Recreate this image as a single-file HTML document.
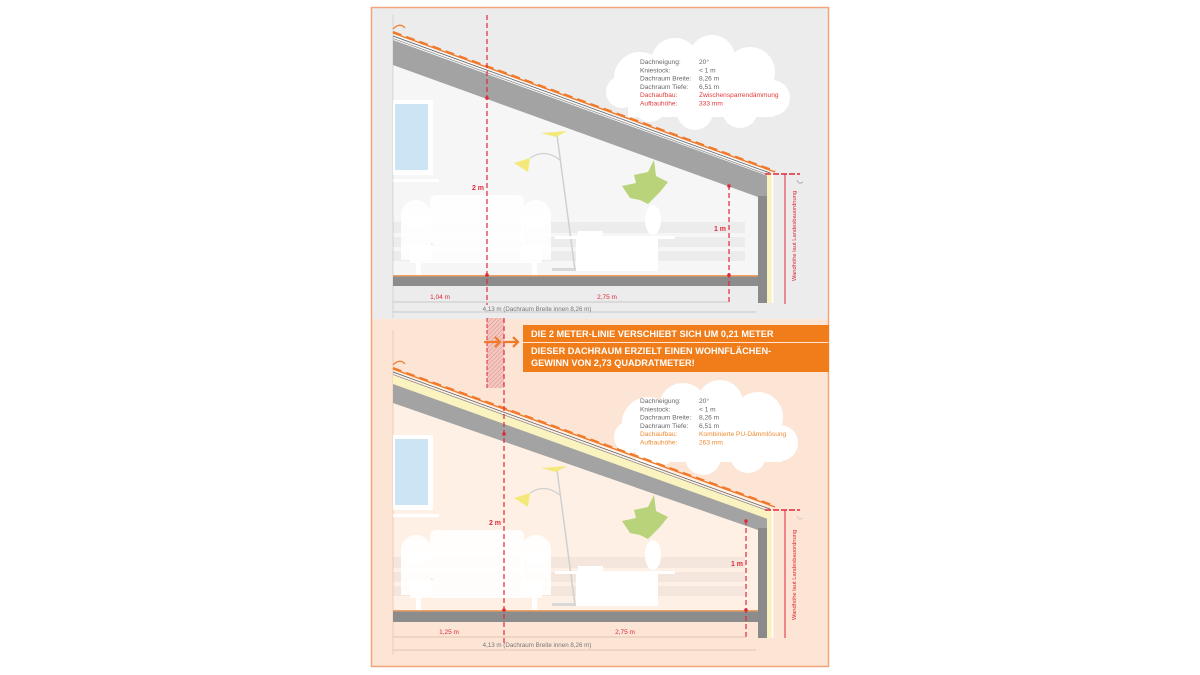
<!DOCTYPE html>
<html><head><meta charset="utf-8"><style>
html,body{margin:0;padding:0;background:#fff;width:1200px;height:675px;overflow:hidden}
svg{display:block}
text{font-family:"Liberation Sans",sans-serif}
</style></head><body>
<svg width="1200" height="675" viewBox="0 0 1200 675" xmlns="http://www.w3.org/2000/svg">
<defs>
<pattern id="hatch" width="3" height="3" patternUnits="userSpaceOnUse" patternTransform="rotate(45)">
<rect width="3" height="3" fill="#f2c8c0"/><line x1="0" y1="0" x2="0" y2="3" stroke="#e08c80" stroke-width="1"/></pattern>
<g id="furn">
 <rect x="393" y="222" width="352" height="11" fill="#000" opacity="0.04"/>
 <rect x="393" y="237" width="352" height="10" fill="#000" opacity="0.04"/>
 <rect x="393" y="251" width="352" height="10" fill="#000" opacity="0.04"/>
 <rect x="430" y="195" width="94" height="50" rx="6" fill="#fff" opacity="0.9"/>
 <circle cx="416" cy="215" r="15" fill="#fff" opacity="0.9"/>
 <circle cx="536" cy="215" r="15" fill="#fff" opacity="0.9"/>
 <rect x="401" y="215" width="30" height="45" fill="#fff" opacity="0.9"/>
 <rect x="521" y="215" width="30" height="45" fill="#fff" opacity="0.9"/>
 <rect x="410" y="245" width="132" height="18" fill="#fff" opacity="0.9"/>
 <rect x="416" y="262" width="5" height="13" fill="#fff"/>
 <rect x="532" y="262" width="5" height="13" fill="#fff"/>
 <line x1="557" y1="135" x2="575" y2="270" stroke="#d0d0d0" stroke-width="1.5"/>
 <path d="M530 158 Q545 148 560 160" stroke="#d0d0d0" fill="none" stroke-width="1.2"/>
 <path d="M541 133 L567 131 L556 137 Z" fill="#f5e87a"/>
 <path d="M514 163 L530 158 L528 172 Z" fill="#f5e87a"/>
 <rect x="552" y="268" width="35" height="3" fill="#d8d8d8"/>
 <rect x="555" y="236" width="120" height="3" fill="#fff"/>
 <rect x="576" y="239" width="82" height="32" fill="#fff"/>
 <rect x="578" y="231" width="25" height="5" fill="#fff"/>
 <ellipse cx="653" cy="220" rx="8" ry="15" fill="#fff"/>
 <path d="M622 186 L636 183 L634 175 L648 172 L654 160 L656 176 L668 182 L660 192 L648 204 L640 200 L630 198 Z" fill="#b8d37a"/>
</g>
<g id="cloud" fill="#fff">
 <circle cx="640" cy="78" r="26"/><circle cx="675" cy="62" r="24"/><circle cx="712" cy="58" r="23"/>
 <circle cx="750" cy="72" r="25"/><circle cx="772" cy="98" r="18"/><circle cx="740" cy="110" r="18"/>
 <circle cx="695" cy="112" r="18"/><circle cx="650" cy="106" r="16"/><circle cx="622" cy="92" r="16"/>
 <rect x="628" y="65" width="146" height="52"/>
</g>
</defs>

<rect x="371" y="7" width="458" height="312" fill="#ececec"/>
<rect x="371" y="319" width="458" height="348" fill="#fde5d5"/>
<rect x="371.5" y="7.5" width="457" height="659" fill="none" stroke="#f3a57a" stroke-width="1.5"/>

<!-- TOP -->
<rect x="393" y="15" width="372" height="262" fill="#f6f6f6"/>
<polygon points="393,15 775,15 775,172 393,33" fill="#ececec"/>
<line x1="393" y1="15" x2="393" y2="318" stroke="#cfcfcf" stroke-width="0.8"/>
<rect x="393" y="100" width="40" height="75" fill="#fff"/>
<rect x="395" y="104" width="33" height="66" fill="#cde4f5"/>
<rect x="393" y="179" width="46" height="3" fill="#fff"/>
<use href="#furn"/>
<use href="#cloud"/>
<text font-size="6.6" fill="#666"><tspan x="640" y="64">Dachneigung:</tspan><tspan x="640" y="72.3">Kniestock:</tspan><tspan x="640" y="80.6">Dachraum Breite:</tspan><tspan x="640" y="88.9">Dachraum Tiefe:</tspan></text>
<text font-size="6.6" fill="#666"><tspan x="699" y="64">20°</tspan><tspan x="699" y="72.3">&lt; 1 m</tspan><tspan x="699" y="80.6">8,26 m</tspan><tspan x="699" y="88.9">6,51 m</tspan></text>
<text font-size="6.6" fill="#e03a3a"><tspan x="640" y="97.2">Dachaufbau:</tspan><tspan x="640" y="105.5">Aufbauhöhe:</tspan><tspan x="699" y="97.2">Zwischensparrendämmung</tspan><tspan x="699" y="105.5">333 mm</tspan></text>
<polygon points="393,40 768,176 768,197 758,197 393,65" fill="#a3a3a3"/>
<line x1="393" y1="36" x2="770" y2="173" stroke="#555" stroke-width="0.7"/>
<line x1="393" y1="38.5" x2="770" y2="175.5" stroke="#777" stroke-width="0.6"/>
<line x1="393" y1="33" x2="775" y2="172" stroke="#f07a2a" stroke-width="1.4"/>
<line x1="393" y1="32" x2="775" y2="171" stroke="#f07a2a" stroke-width="2" stroke-dasharray="9,5"/>
<path d="M393 29 Q400 22 405 28" stroke="#f07a2a" fill="none" stroke-width="1.2"/>
<rect x="758" y="196" width="9" height="107" fill="#8a8a8a"/>
<rect x="767" y="173" width="5" height="130" fill="#faf3c0"/>
<line x1="772.5" y1="173" x2="772.5" y2="303" stroke="#fff" stroke-width="1.5"/>
<rect x="393" y="276" width="365" height="10" fill="#8c8c8c"/>
<rect x="393" y="275" width="365" height="1.5" fill="#f0a060"/>
<line x1="487" y1="15" x2="487" y2="305" stroke="#e0283a" stroke-width="1.2" stroke-dasharray="5,3"/>
<circle cx="487" cy="98" r="1.8" fill="#e0283a"/><circle cx="487" cy="275" r="1.8" fill="#e0283a"/>
<text x="484" y="190" font-size="7" font-weight="bold" fill="#e0283a" text-anchor="end">2 m</text>
<line x1="729" y1="185" x2="729" y2="305" stroke="#e0283a" stroke-width="1.2" stroke-dasharray="5,3"/>
<circle cx="729" cy="186" r="1.8" fill="#e0283a"/><circle cx="729" cy="275" r="1.8" fill="#e0283a"/>
<text x="726" y="231" font-size="7" font-weight="bold" fill="#e0283a" text-anchor="end">1 m</text>
<line x1="393" y1="302" x2="729" y2="302" stroke="#bbb" stroke-width="0.7"/>
<line x1="393" y1="312" x2="756" y2="312" stroke="#bbb" stroke-width="0.7"/>
<text x="440" y="299" font-size="6.5" fill="#e0283a" text-anchor="middle">1,04 m</text>
<text x="607" y="299" font-size="6.5" fill="#e0283a" text-anchor="middle">2,75 m</text>
<text x="537" y="311" font-size="6.2" fill="#777" text-anchor="middle">4,13 m (Dachraum Breite innen 8,26 m)</text>
<line x1="785" y1="174" x2="785" y2="304" stroke="#e0283a" stroke-width="1"/>
<line x1="765" y1="174" x2="800" y2="174" stroke="#e0283a" stroke-width="1.4" stroke-dasharray="6,2"/>
<path d="M797 180 q2 5 6 2" stroke="#aaa" fill="none" stroke-width="1"/>
<text transform="translate(796,236) rotate(-90)" font-size="5.8" fill="#e0283a" text-anchor="middle">Wandhöhe laut Landesbauordnung</text>

<!-- BOTTOM -->
<rect x="393" y="350" width="372" height="262" fill="#fef0e5"/>
<polygon points="393,340 775,340 775,508 393,370" fill="#fde5d5"/>
<line x1="393" y1="330" x2="393" y2="655" stroke="#e8c8b0" stroke-width="0.8"/>
<g transform="translate(0,335)">
<rect x="393" y="100" width="40" height="75" fill="#fff"/>
<rect x="395" y="104" width="33" height="66" fill="#cde4f5"/>
<rect x="393" y="179" width="46" height="3" fill="#fff"/>
<use href="#furn"/>
</g>
<g transform="translate(8,345)"><use href="#cloud"/></g>
<text font-size="6.6" fill="#666"><tspan x="640" y="403">Dachneigung:</tspan><tspan x="640" y="411.3">Kniestock:</tspan><tspan x="640" y="419.6">Dachraum Breite:</tspan><tspan x="640" y="427.9">Dachraum Tiefe:</tspan></text>
<text font-size="6.6" fill="#666"><tspan x="699" y="403">20°</tspan><tspan x="699" y="411.3">&lt; 1 m</tspan><tspan x="699" y="419.6">8,26 m</tspan><tspan x="699" y="427.9">6,51 m</tspan></text>
<text font-size="6.6" fill="#f08a30"><tspan x="640" y="436.2">Dachaufbau:</tspan><tspan x="640" y="444.5">Aufbauhöhe:</tspan><tspan x="699" y="436.2">Kombinierte PU-Dämmlösung</tspan><tspan x="699" y="444.5">263 mm</tspan></text>
<polygon points="393,375 768,511 768,530 758,530 393,403" fill="#a3a3a3"/>
<polygon points="393,375 768,511 768,519 393,384" fill="#faf3c0"/>
<line x1="393" y1="372" x2="770" y2="509" stroke="#555" stroke-width="0.7"/>
<line x1="393" y1="374.5" x2="770" y2="511.5" stroke="#777" stroke-width="0.6"/>
<line x1="393" y1="369" x2="775" y2="507" stroke="#f07a2a" stroke-width="1.4"/>
<line x1="393" y1="368" x2="775" y2="506" stroke="#f07a2a" stroke-width="2" stroke-dasharray="9,5"/>
<path d="M393 365 Q400 358 405 364" stroke="#f07a2a" fill="none" stroke-width="1.2"/>
<rect x="758" y="528" width="9" height="110" fill="#8a8a8a"/>
<rect x="767" y="510" width="5" height="128" fill="#faf3c0"/>
<line x1="772.5" y1="510" x2="772.5" y2="638" stroke="#fff" stroke-width="1.5"/>
<rect x="393" y="611" width="365" height="11" fill="#8c8c8c"/>
<rect x="393" y="610" width="365" height="1.5" fill="#f0a060"/>
<rect x="487" y="318" width="17" height="70" fill="url(#hatch)"/>
<line x1="487" y1="318" x2="487" y2="388" stroke="#e0283a" stroke-width="1" stroke-dasharray="4,2"/>
<line x1="504" y1="318" x2="504" y2="645" stroke="#e0283a" stroke-width="1.2" stroke-dasharray="5,3"/>
<path d="M484 342 H500 M495 337 L500 342 L495 347" stroke="#f07a2a" stroke-width="2.2" fill="none"/>
<path d="M503 342 H518 M513 337 L518 342 L513 347" stroke="#f07a2a" stroke-width="2.2" fill="none"/>
<rect x="523" y="325" width="306" height="17" fill="#f07d1a"/>
<rect x="523" y="343" width="306" height="29" fill="#f07d1a"/>
<text x="531" y="337" font-size="9.2" font-weight="bold" fill="#fff">DIE 2 METER-LINIE VERSCHIEBT SICH UM 0,21 METER</text>
<text font-size="9.2" font-weight="bold" fill="#fff"><tspan x="531" y="354">DIESER DACHRAUM ERZIELT EINEN WOHNFLÄCHEN-</tspan><tspan x="531" y="366">GEWINN VON 2,73 QUADRATMETER!</tspan></text>
<circle cx="504" cy="434" r="1.8" fill="#e0283a"/><circle cx="504" cy="610" r="1.8" fill="#e0283a"/>
<text x="501" y="525" font-size="7" font-weight="bold" fill="#e0283a" text-anchor="end">2 m</text>
<line x1="746" y1="520" x2="746" y2="640" stroke="#e0283a" stroke-width="1.2" stroke-dasharray="5,3"/>
<circle cx="746" cy="521" r="1.8" fill="#e0283a"/><circle cx="746" cy="610" r="1.8" fill="#e0283a"/>
<text x="743" y="566" font-size="7" font-weight="bold" fill="#e0283a" text-anchor="end">1 m</text>
<line x1="393" y1="637" x2="746" y2="637" stroke="#d8b8a0" stroke-width="0.7"/>
<line x1="393" y1="650" x2="756" y2="650" stroke="#d8b8a0" stroke-width="0.7"/>
<text x="449" y="634" font-size="6.5" fill="#e0283a" text-anchor="middle">1,25 m</text>
<text x="625" y="634" font-size="6.5" fill="#e0283a" text-anchor="middle">2,75 m</text>
<text x="537" y="647" font-size="6.2" fill="#777" text-anchor="middle">4,13 m (Dachraum Breite innen 8,26 m)</text>
<line x1="785" y1="510" x2="785" y2="638" stroke="#e0283a" stroke-width="1"/>
<line x1="765" y1="510" x2="800" y2="510" stroke="#e0283a" stroke-width="1.4" stroke-dasharray="6,2"/>
<path d="M797 516 q2 5 6 2" stroke="#ccc" fill="none" stroke-width="1"/>
<text transform="translate(796,575) rotate(-90)" font-size="5.8" fill="#e0283a" text-anchor="middle">Wandhöhe laut Landesbauordnung</text>
</svg>
</body></html>
